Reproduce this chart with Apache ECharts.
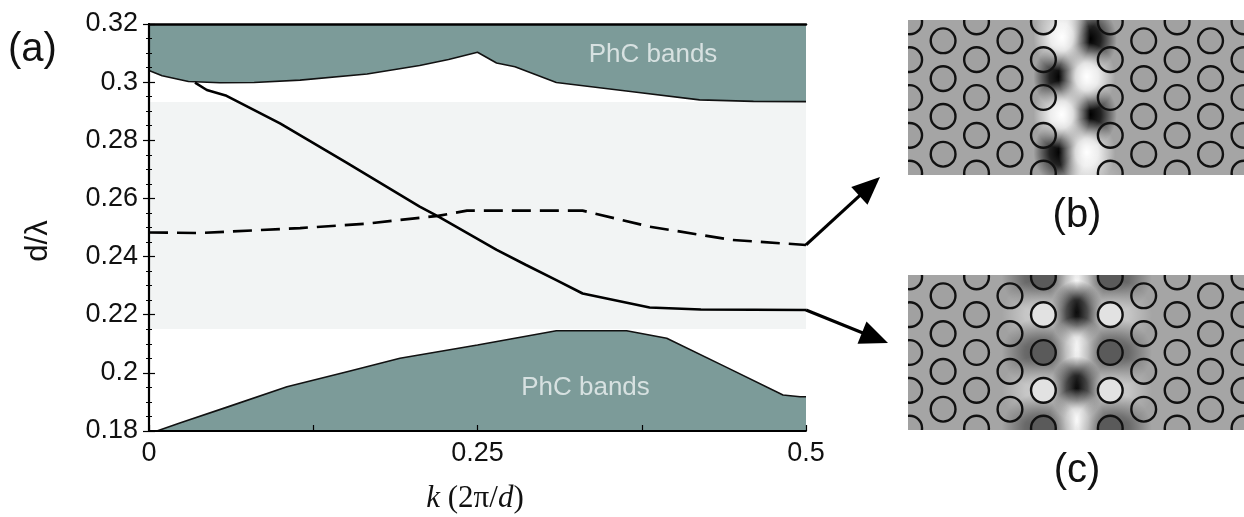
<!DOCTYPE html>
<html><head><meta charset="utf-8">
<script src="https://cdn.jsdelivr.net/npm/echarts@6/dist/echarts.min.js"></script>
<style>html,body{margin:0;padding:0;background:#fff}#c{width:1244px;height:517px}</style>
</head><body><div id="c"></div>
<script>
// ---------- main panel (a) data ----------
const kUpperBand    = [0, 0.01, 0.03, 0.054, 0.08, 0.115, 0.166, 0.206, 0.228, 0.25, 0.2645, 0.2785, 0.31, 0.368, 0.419, 0.46, 0.5];
const upperBandEdge = [0.3040, 0.3022, 0.3002, 0.2998, 0.2999, 0.3007, 0.3028, 0.3057, 0.3078, 0.3103, 0.3066, 0.3053, 0.2999, 0.2967, 0.2939, 0.2934, 0.2933];
const kLowerBand    = [0, 0.006, 0.024, 0.06, 0.105, 0.15, 0.191, 0.25, 0.31, 0.3635, 0.394, 0.44, 0.4825, 0.4955, 0.5];
const lowerBandEdge = [0.18, 0.18, 0.1828, 0.1883, 0.1952, 0.2003, 0.2050, 0.2096, 0.2145, 0.2145, 0.2119, 0.2018, 0.1924, 0.1918, 0.1918];
const kSolid        = [0.035, 0.044, 0.059, 0.0997, 0.15, 0.206, 0.220, 0.2646, 0.287, 0.310, 0.330, 0.381, 0.42, 0.5];
const solidMode     = [0.2998, 0.2973, 0.2953, 0.2858, 0.2724, 0.2572, 0.2538, 0.2423, 0.2371, 0.2319, 0.2273, 0.2225, 0.2218, 0.2216];
const kDashed       = [0, 0.039, 0.115, 0.1655, 0.191, 0.22, 0.242, 0.330, 0.381, 0.444, 0.5];
const dashedMode    = [0.2483, 0.2481, 0.2498, 0.2513, 0.2526, 0.2540, 0.2558, 0.2558, 0.2503, 0.2457, 0.2440];
const gapRange      = [0.2151, 0.2932];
const xTickLabels   = ['0', '0.25', '0.5'];
const bandLabelPos  = [[0.3836, 0.3093], [0.3322, 0.1948]];
const bandLabelText = 'PhC bands';

// ---------- insets (b), (c): lattice and field ----------
const latticeColsA = [-4, -2, 2, 4];
const latticeRowsA = [-1.5, -0.5, 0.5, 1.5];
const latticeColsB = [-5, -3, -1, 1, 3, 5];
const latticeRowsB = [-2, -1, 0, 1, 2];
// hole tone for (c): [col,row,tone] (1 light, -1 dark)
const holeToneC = [[-1, -2, -1], [-1, -1, 1], [-1, 0, -1], [-1, 1, 1], [-1, 2, -1],
                   [1, -2, -1], [1, -1, 1], [1, 0, -1], [1, 1, 1], [1, 2, -1]];
// field spots: [x, y, tone] tone: -1 dark, 1 bright, -0.5 dark halo, 0.5 bright halo
const fieldB = [[0.4, 1.55, -1], [-0.5, 0.55, -1], [0.4, -0.45, -1], [-0.5, -1.45, -1],
                [-0.45, 1.6, 1], [0.3, 0.55, 1], [-0.45, -0.45, 1], [0.3, -1.45, 1],
                [-0.45, 2.4, 0.5], [0.4, -2.35, 0.5]];
const fieldC = [[0, 1.9, 1], [0, 1.05, -1], [0, 0.05, 1], [0, -0.95, -1], [0, -1.85, 1],
                [-1.1, 2.0, -0.5], [-1.1, 1.0, 0.5], [-1.1, 0, -0.5], [-1.1, -1.0, 0.5], [-1.1, -2.0, -0.5],
                [1.1, 2.0, -0.5], [1.1, 1.0, 0.5], [1.1, 0, -0.5], [1.1, -1.0, 0.5], [1.1, -2.0, -0.5]];

function zip(a, b) { return a.map((v, i) => [v, b[i]]); }
function lattice(tones) {
  const pts = [];
  latticeColsA.forEach(x => latticeRowsA.forEach(y => pts.push([x, y, 0])));
  latticeColsB.forEach(x => latticeRowsB.forEach(y => {
    let t = 0;
    (tones || []).forEach(h => { if (h[0] === x && h[1] === y) t = h[2]; });
    pts.push([x, y, t]);
  }));
  return pts;
}

const TEAL = '#7c9b99';
const FONT = 'Liberation Sans, Arial, sans-serif';

function renderHole(params, api) {
  const c = api.coord([api.value(0), api.value(1)]);
  const u = api.size([1, 1]);
  const tone = api.value(2);
  const fill = tone > 0 ? '#e2e2e2' : tone < 0 ? '#5a5a5a' : 'rgba(150,150,150,0.25)';
  return { type: 'circle', shape: { cx: c[0], cy: c[1], r: u[0] * 0.37 },
           style: { fill: fill, stroke: '#111', lineWidth: 2.4 } };
}
function renderSpot(params, api) {
  const c = api.coord([api.value(0), api.value(1)]);
  const u = api.size([1, 1]);
  const tone = api.value(2);
  const strong = Math.abs(tone) === 1;
  const rgb = tone > 0 ? '255,255,255' : '0,0,0';
  const r = u[0] * (strong ? (tone > 0 ? 0.85 : 0.8) : 1.15);
  const a = strong ? 1 : 0.45;
  return { type: 'circle', x: c[0], y: c[1], scaleY: strong ? 1.2 : 0.9,
           shape: { cx: 0, cy: 0, r: r },
           style: { fill: { type: 'radial', x: 0.5, y: 0.5, r: 0.5, colorStops: [
             { offset: 0, color: 'rgba(' + rgb + ',' + a + ')' },
             { offset: 0.4, color: 'rgba(' + rgb + ',' + (a * 0.8) + ')' },
             { offset: 1, color: 'rgba(' + rgb + ',0)' }] } } };
}

const chart = echarts.init(document.getElementById('c'), null, { renderer: 'canvas' });
const axisLbl = { fontSize: 27, fontFamily: FONT, color: '#111' };
const hiddenX = (g) => ({ type: 'value', gridIndex: g, min: -5.05, max: 5.0, show: false });
const hiddenY = (g) => ({ type: 'value', gridIndex: g, min: -2.05, max: 2.05, show: false });

const option = {
  animation: false,
  backgroundColor: '#fff',
  grid: [
    { left: 149, top: 24, width: 657, height: 407 },
    { left: 908, top: 20, width: 336, height: 155, show: true, backgroundColor: '#a5a5a5', borderWidth: 0 },
    { left: 908, top: 275, width: 336, height: 155, show: true, backgroundColor: '#a5a5a5', borderWidth: 0 }
  ],
  xAxis: [
    { type: 'value', gridIndex: 0, min: 0, max: 0.5, interval: 0.125, z: 10,
      axisLine: { lineStyle: { color: '#000', width: 1.8 } },
      axisTick: { inside: true, length: 6, lineStyle: { color: '#000', width: 1.2 } },
      splitLine: { show: false },
      axisLabel: Object.assign({ margin: 9, showMinLabel: true, showMaxLabel: true,
        formatter: v => { const s = String(+v.toFixed(3)); return xTickLabels.indexOf(s) >= 0 ? s : ''; } }, axisLbl) },
    { type: 'value', gridIndex: 0, position: 'top', min: 0, max: 0.5, z: 10,
      axisLine: { show: true, lineStyle: { color: '#000', width: 2.5 } },
      axisTick: { show: false }, axisLabel: { show: false }, splitLine: { show: false } },
    hiddenX(1), hiddenX(2)
  ],
  yAxis: [
    { type: 'value', gridIndex: 0, min: 0.18, max: 0.32, interval: 0.02, z: 10,
      axisLine: { show: true, lineStyle: { color: '#000', width: 1.8 } },
      axisTick: { show: true, inside: true, length: 6, lineStyle: { color: '#000', width: 1.2 } },
      minorTick: { show: true, splitNumber: 4, length: 3, lineStyle: { color: '#000', width: 1 } },
      splitLine: { show: false },
      axisLabel: Object.assign({ margin: 11, formatter: v => String(+v.toFixed(2)) }, axisLbl) },
    { type: 'value', gridIndex: 0, position: 'right', min: 0.18, max: 0.32, interval: 0.02, z: 10,
      axisLine: { show: true, lineStyle: { color: '#000', width: 2.2 } },
      axisTick: { show: true, inside: true, length: 6, lineStyle: { color: '#000', width: 1.2 } },
      minorTick: { show: true, splitNumber: 4, length: 3, lineStyle: { color: '#000', width: 1 } },
      splitLine: { show: false }, axisLabel: { show: false } },
    hiddenY(1), hiddenY(2)
  ],
  series: [
    { type: 'line', xAxisIndex: 0, yAxisIndex: 0, data: [[0, 0.25]], symbol: 'none', z: 1,
      lineStyle: { opacity: 0 }, silent: true,
      markArea: { silent: true, itemStyle: { color: '#f2f4f4' },
        data: [[{ yAxis: gapRange[0], xAxis: 0 }, { yAxis: gapRange[1], xAxis: 0.5 }]] } },
    { type: 'line', xAxisIndex: 0, yAxisIndex: 0, data: zip(kUpperBand, upperBandEdge), symbol: 'none', z: 3,
      lineStyle: { color: '#111', width: 1.6 }, areaStyle: { origin: 'end', color: TEAL, opacity: 1 } },
    { type: 'line', xAxisIndex: 0, yAxisIndex: 0, data: zip(kLowerBand, lowerBandEdge), symbol: 'none', z: 3,
      lineStyle: { color: '#111', width: 1.6 }, areaStyle: { origin: 'start', color: TEAL, opacity: 1 } },
    { type: 'line', xAxisIndex: 0, yAxisIndex: 0, data: zip(kSolid, solidMode), symbol: 'none', z: 4,
      lineStyle: { color: '#000', width: 2.6 } },
    { type: 'line', xAxisIndex: 0, yAxisIndex: 0, data: zip(kDashed, dashedMode), symbol: 'none', z: 4,
      lineStyle: { color: '#000', width: 2.6, type: [19, 9] } },
    { type: 'scatter', xAxisIndex: 0, yAxisIndex: 0, data: bandLabelPos, symbolSize: 0, z: 6, silent: true,
      label: { show: true, position: 'inside', formatter: bandLabelText, fontSize: 26, fontFamily: FONT, color: '#eef3f2' } },
    // inset (b)
    { type: 'custom', xAxisIndex: 2, yAxisIndex: 2, clip: true, data: fieldB, renderItem: renderSpot, z: 2, silent: true },
    { type: 'custom', xAxisIndex: 2, yAxisIndex: 2, clip: true, data: lattice(null), renderItem: renderHole, z: 3, silent: true },
    // inset (c)
    { type: 'custom', xAxisIndex: 3, yAxisIndex: 3, clip: true, data: fieldC, renderItem: renderSpot, z: 2, silent: true },
    { type: 'custom', xAxisIndex: 3, yAxisIndex: 3, clip: true, data: lattice(holeToneC), renderItem: renderHole, z: 3, silent: true }
  ]
};
chart.setOption(option);

function arrow(tail, tip, hl, hw) {
  const dx = tip[0] - tail[0], dy = tip[1] - tail[1], L = Math.hypot(dx, dy), ux = dx / L, uy = dy / L;
  const bx = tip[0] - ux * hl, by = tip[1] - uy * hl;
  return [
    { type: 'line', shape: { x1: tail[0], y1: tail[1], x2: bx + ux * 3, y2: by + uy * 3 }, style: { stroke: '#000', lineWidth: 3.2 }, z: 20 },
    { type: 'polygon', shape: { points: [tip, [bx - uy * hw / 2, by + ux * hw / 2], [bx + uy * hw / 2, by - ux * hw / 2]] }, style: { fill: '#000' }, z: 20 }
  ];
}
const tailB = chart.convertToPixel({ gridIndex: 0 }, [kDashed[kDashed.length - 1], dashedMode[dashedMode.length - 1]]);
const tailC = chart.convertToPixel({ gridIndex: 0 }, [kSolid[kSolid.length - 1], solidMode[solidMode.length - 1]]);
const insetB = chart.convertToPixel({ gridIndex: 1 }, [-5.05, -2.05]);
const insetC = chart.convertToPixel({ gridIndex: 2 }, [-5.05, 2.05]);

chart.setOption({
  graphic: [
    { type: 'text', left: 8, top: 30, style: { text: '(a)', fontSize: 40, fontFamily: FONT, fill: '#111' }, z: 20 },
    { type: 'text', x: 38, y: 241, rotation: Math.PI / 2, style: { text: 'd/λ', fontSize: 31, fontFamily: FONT, fill: '#111', align: 'center', verticalAlign: 'middle' }, z: 20 },
    { type: 'text', x: 475, y: 499, style: { text: '{i|k}{n| (2π/}{i|d}{n|)}', align: 'center', verticalAlign: 'middle',
        rich: { i: { fontSize: 31, fontStyle: 'italic', fontFamily: 'Liberation Serif, serif', fill: '#111' },
                n: { fontSize: 31, fontFamily: 'Liberation Serif, serif', fill: '#111' } } }, z: 20 },
    { type: 'text', x: 1077, y: 216, style: { text: '(b)', fontSize: 40, fontFamily: FONT, fill: '#111', align: 'center', verticalAlign: 'middle' }, z: 20 },
    { type: 'text', x: 1077, y: 471, style: { text: '(c)', fontSize: 40, fontFamily: FONT, fill: '#111', align: 'center', verticalAlign: 'middle' }, z: 20 }
  ].concat(arrow(tailB, [insetB[0] - 28, insetB[1] + 2], 28, 24))
   .concat(arrow(tailC, [insetC[0] - 20, insetC[1] + 68], 28, 24))
});
</script>
</body></html>
